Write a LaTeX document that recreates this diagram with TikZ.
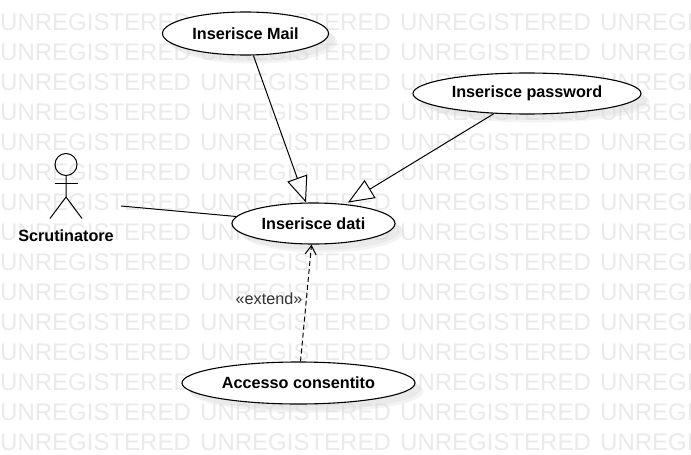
\documentclass[tikz,border=0pt]{standalone}
\usepackage{fontspec}
\setmainfont{Liberation Sans}
\usepackage{xcolor}
\usetikzlibrary{shapes.geometric, arrows.meta, shadows}
\definecolor{watermark}{HTML}{EAEAEA}
\definecolor{shadowgray}{HTML}{D8D8D8}
\tikzset{
    usecase/.style={draw, ellipse, fill=white, line width=1.1pt, inner sep=0pt, font=\fontsize{16.2}{18}\selectfont\bfseries,
        drop shadow={shadow xshift=8.5pt, shadow yshift=-8.5pt, fill=shadowgray, opacity=0.3},
        drop shadow={shadow xshift=6pt, shadow yshift=-6pt, fill=shadowgray, opacity=0.3}},
    stick/.style={line width=1pt},
    assoc/.style={line width=1pt},
    generalize/.style={line width=1pt, -{Triangle[fill=white, length=26pt, width=21pt]}},
    include/.style={line width=1pt, dash pattern=on 5pt off 3pt, -{Straight Barb[length=9pt, width=11pt]}},
    mark text/.style={text=watermark, anchor=west, inner sep=0pt, font=\fontsize{24}{26}\selectfont}
}
\begin{document}
\begin{tikzpicture}[x=1pt, y=-1pt]
        \useasboundingbox (0, 0) rectangle (691, 455);
        \clip (0, 0) rectangle (691, 455);
        \fill[white] (0, 0) rectangle (691, 455);
        \foreach \col in {0, 200, 400, 600}
            \foreach \row in {22, 52, ..., 442}
                \node[mark text] (mark-\col-\row) at (\col, \row) {UNREGISTERED};

        \node[usecase, minimum width=166pt, minimum height=43pt] (mail) at (245.5, 33.5) {Inserisce Mail};
        \node[usecase, minimum width=228pt, minimum height=41pt] (password) at (527, 93.5) {Inserisce password};
        \node[usecase, minimum width=163pt, minimum height=41pt] (dati) at (313.5, 223.5) {Inserisce dati};
        \node[usecase, minimum width=233pt, minimum height=42pt] (accesso) at (298.5, 383) {Accesso consentito};

        % the actor
        \coordinate (actor) at (121, 206);
        \draw[stick] (66, 164.5) circle (11);
        \draw[stick] (66, 175.5) -- (66, 197) -- (50, 218.5);
        \draw[stick] (66, 197) -- (82, 218.5);
        \draw[stick] (54.5, 183) -- (77.5, 183);
        \node[inner sep=0pt, font=\fontsize{16.2}{18}\selectfont\bfseries] (scrutinatore) at (66, 235.5) {Scrutinatore};

        \draw[assoc] (actor) -- (dati);
        \draw[generalize] (mail) -- (dati);
        \draw[generalize, shorten >=3pt] (password) -- (dati);
        \draw[include] (accesso) -- (dati);
        \node[inner sep=0pt, text=black!80, font=\fontsize{16.2}{18}\selectfont] (extend) at (269, 298.5) {«extend»};
    \end{tikzpicture}
\end{document}
